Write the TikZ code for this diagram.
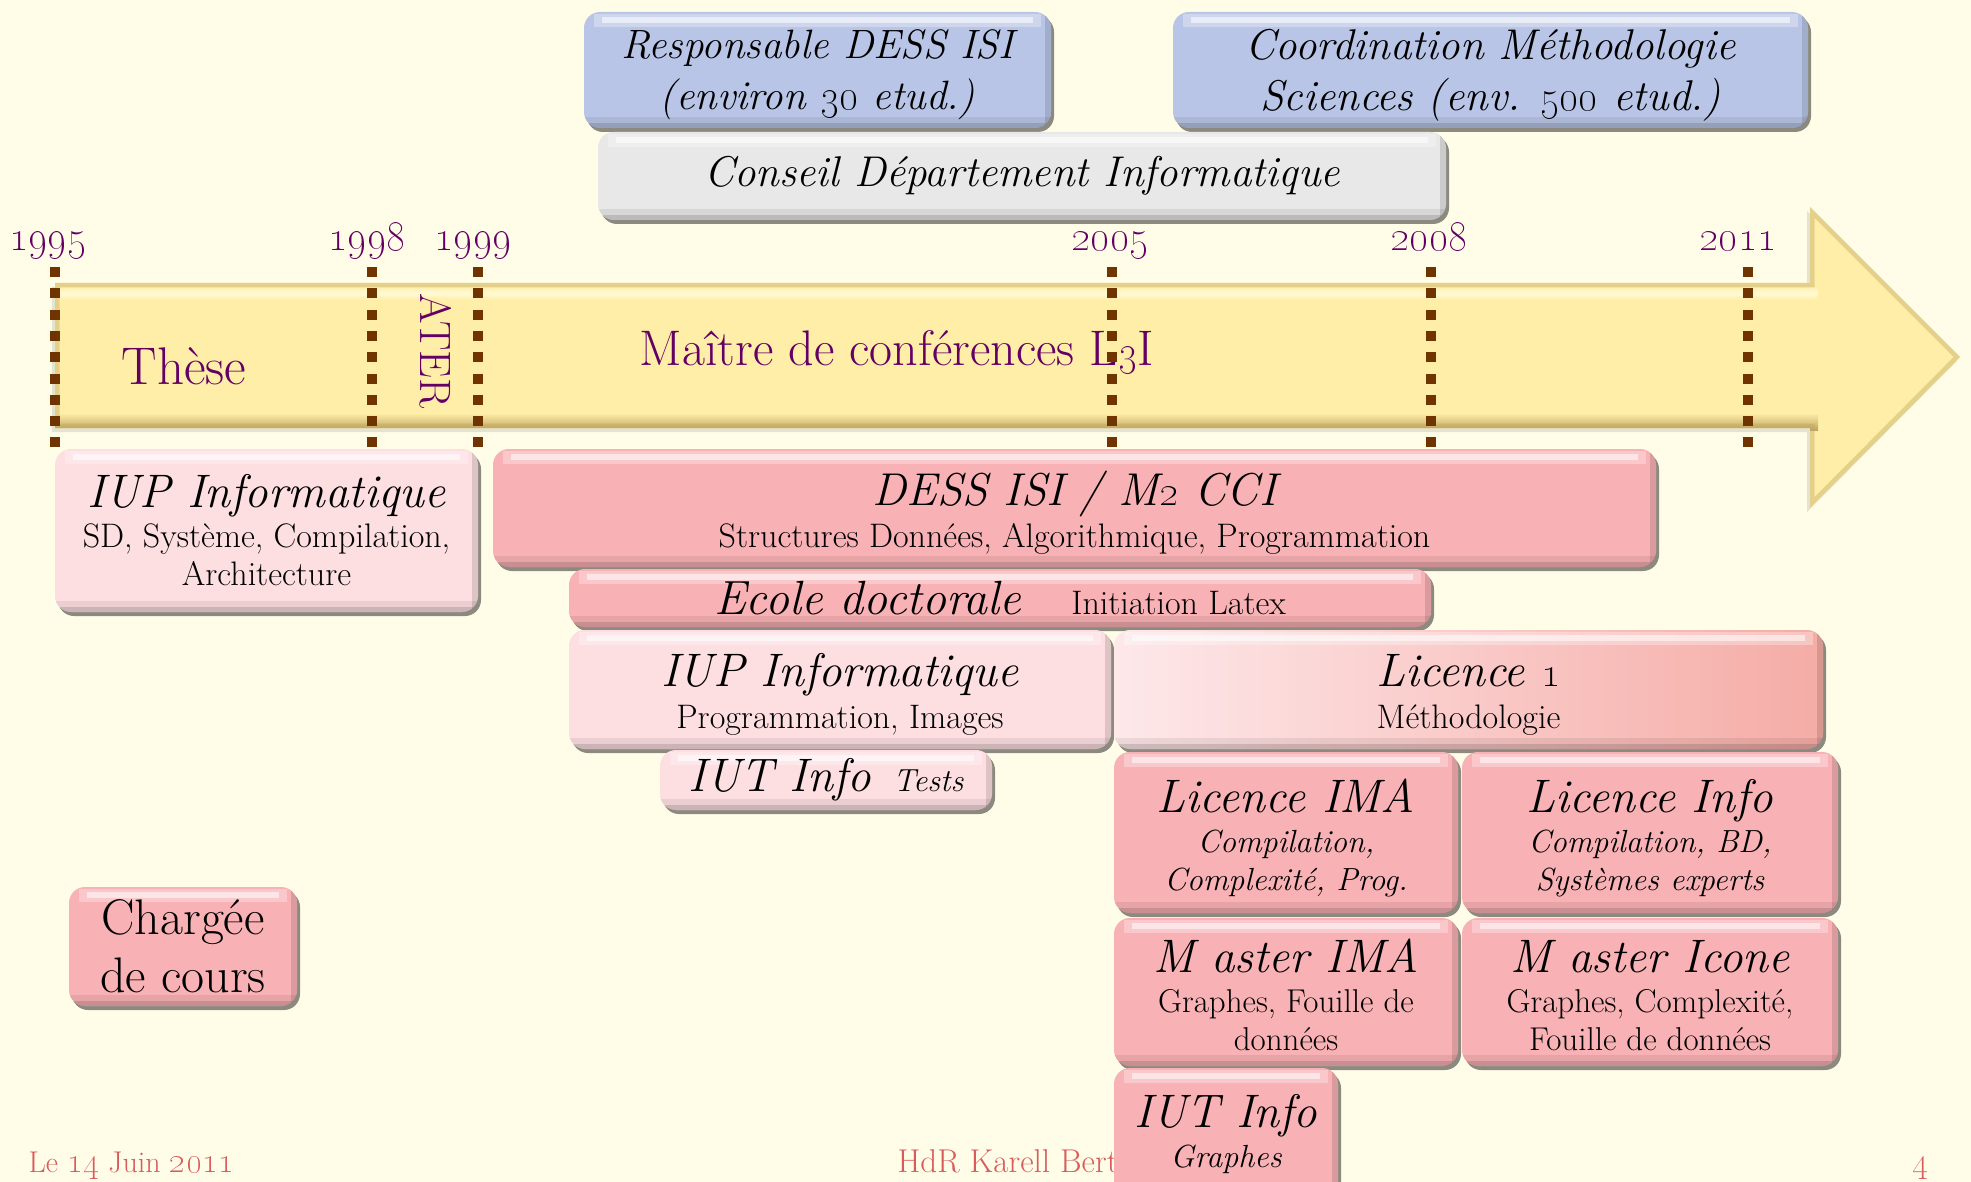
\documentclass[tikz,border=0pt]{standalone}
\usetikzlibrary{shadows}

\definecolor{bg}{RGB}{255,253,232}
\definecolor{pk}{RGB}{248,177,180}
\definecolor{pkr}{RGB}{245,172,166}
\definecolor{lpk}{RGB}{253,222,225}
\definecolor{bl}{RGB}{185,197,230}
\definecolor{gr}{RGB}{232,232,232}
\definecolor{arr}{RGB}{255,238,168}
\definecolor{arrlt}{RGB}{255,250,214}
\definecolor{arrdk}{RGB}{190,165,95}
\definecolor{dotc}{RGB}{112,52,0}
\definecolor{purp}{RGB}{100,0,100}
\definecolor{foot}{RGB}{217,92,92}

\newcommand\fsz[2]{\fontsize{#1}{#2}\selectfont}
% old-style figures, enlarged a little to sit well with the text
\newcommand\osn[1]{\scalebox{1.2}{\oldstylenums{#1}}}
% invisible strut that lowers a text block inside its box
\newcommand\upstrut[1]{\rule{0pt}{#1}}

\tikzset{
  bx/.style={rounded corners=16pt, align=center, inner sep=0pt, text=black,
    drop shadow={shadow xshift=3pt, shadow yshift=-4pt, opacity=0.45, fill=black},
    path picture={
      \begin{scope}[sharp corners]
      \fill[white,opacity=0.55]
        ([xshift=18pt,yshift=-5pt]path picture bounding box.north west) rectangle
        ([xshift=-18pt,yshift=-11pt]path picture bounding box.north east);
      \fill[white,opacity=0.3]
        ([xshift=10pt,yshift=-2pt]path picture bounding box.north west) rectangle
        ([xshift=-10pt,yshift=-15pt]path picture bounding box.north east);
      \fill[black,opacity=0.07]
        ([yshift=11pt]path picture bounding box.south west) rectangle
        (path picture bounding box.south east);
      \fill[black,opacity=0.13]
        ([yshift=5pt]path picture bounding box.south west) rectangle
        (path picture bounding box.south east);
      \fill[black,opacity=0.12]
        ([xshift=-6pt]path picture bounding box.north east) rectangle
        (path picture bounding box.south east);
      \end{scope}
    }},
  year/.style={text=purp, font=\fsz{38}{38}, anchor=base},
  dotline/.style={dotc, line width=10pt, dash pattern=on 10pt off 11.3pt},
  foottext/.style={text=foot, font=\fsz{30}{30}, anchor=base west},
}

\begin{document}
\begin{tikzpicture}[x=1pt,y=-1pt]
\useasboundingbox (0,0) rectangle (1971,1182);
\fill[bg] (0,0) rectangle (1971,1182);

% ---- time arrow ----
\fill[black,opacity=0.10] (52,287) -- (1807,287) -- (1807,211) -- (1957,361)
  -- (1807,512) -- (1807,432) -- (52,432) -- cycle;
\begin{scope}
  \clip (55,283) -- (1810,283) -- (1810,207) -- (1960,357) -- (1810,508)
    -- (1810,428) -- (55,428) -- cycle;
  \fill[arr] (0,200) rectangle (1971,520);
  \shade[top color=arr, bottom color=arr, middle color=arrlt] (55,286) rectangle (1818,300);
  \shade[top color=arr, bottom color=arrdk] (55,413) rectangle (1818,430);
  \draw[arrdk, line width=9pt, opacity=0.4] (55,283) -- (1810,283) -- (1810,207)
    -- (1960,357) -- (1810,508) -- (1810,428) -- (55,428) -- cycle;
\end{scope}

% ---- periods on the arrow ----
\node[text=purp, font=\fsz{53}{53}] (these) at (184,366) {Thèse};
\node[text=purp, font=\fsz{44}{44}, rotate=-90] (ater) at (436,351) {ATER};
\node[text=purp, font=\fsz{50}{50}] (mdc) at (897,352) {Maître de conférences L\osn{3}I};

% ---- year marks ----
\node[year] (y1995) at (48,251) {\osn{1995}};
\node[year] (y1998) at (367,251) {\osn{1998}};
\node[year] (y1999) at (473,251) {\osn{1999}};
\node[year] (y2005) at (1110,251) {\osn{2005}};
\node[year] (y2008) at (1429,251) {\osn{2008}};
\node[year] (y2011) at (1738,251) {\osn{2011}};
\foreach \x in {55,372,478,1112,1431,1748}
  \draw[dotline] (\x,267) -- (\x,447);

% ---- responsibilities ----
\node[bx, fill=bl, minimum width=467pt, minimum height=116pt, font=\fsz{41}{51}\itshape]
  (resp) at (817.5,70) {\upstrut{38pt}Responsable DESS ISI\\(environ \osn{30} etud.)};
\node[bx, fill=bl, minimum width=635pt, minimum height=116pt, font=\fsz{43}{51}\itshape]
  (coord) at (1490.5,70) {\upstrut{40pt}Coordination Méthodologie\\Sciences (env. \osn{500} etud.)};
\node[bx, fill=gr, minimum width=848pt, minimum height=88pt, font=\fsz{43}{51}\itshape]
  (conseil) at (1022,176) {Conseil Département Informatique};

% ---- teaching ----
\node[bx, fill=lpk, minimum width=423pt, minimum height=163pt, font=\fsz{34}{38}]
  (iupa) at (266.5,530.5) {{\fsz{47}{50}\itshape IUP Informatique}\\[2pt]SD, Système, Compilation,\\Architecture};
\node[bx, fill=pk, minimum width=1163pt, minimum height=118pt, font=\fsz{34}{38}]
  (dess) at (1074.5,508) {{\fsz{46}{50}\itshape\upstrut{44pt}DESS ISI / M\osn{2} CCI}\\[4pt]Structures Données, Algorithmique, Programmation};
\node[bx, fill=pk, minimum width=862pt, minimum height=58pt, font=\fsz{34}{38}]
  (ecole) at (1000,598) {{\fsz{48}{50}\itshape Ecole doctorale}\hspace{50pt}Initiation Latex};
\node[bx, fill=lpk, minimum width=542pt, minimum height=119pt, font=\fsz{34}{38}]
  (iupb) at (840,689.5) {{\fsz{47}{50}\itshape\upstrut{42pt}IUP Informatique}\\[4pt]Programmation, Images};
\node[bx, left color=lpk!70!white, right color=pkr, minimum width=709pt, minimum height=119pt, font=\fsz{34}{38}]
  (lic1) at (1468.5,689.5) {{\fsz{47}{50}\itshape\upstrut{42pt}Licence \osn{1}}\\[4pt]Méthodologie};
\node[bx, fill=lpk, minimum width=332pt, minimum height=60pt, font=\fsz{47}{50}\itshape]
  (iuta) at (826,780) {IUT Info\hspace{22pt}{\fsz{32}{34}Tests}};
\node[bx, fill=pk, minimum width=344pt, minimum height=161pt, font=\fsz{32}{38}\itshape]
  (licima) at (1286,832.5) {{\fsz{47}{50}\upstrut{44pt}Licence IMA}\\[2pt]Compilation,\\Complexité, Prog.};
\node[bx, fill=pk, minimum width=376pt, minimum height=161pt, font=\fsz{32}{38}\itshape]
  (licinfo) at (1650,832.5) {{\fsz{47}{50}\upstrut{44pt}Licence Info}\\[2pt]Compilation, BD,\\Systèmes experts};
\node[bx, fill=pk, minimum width=344pt, minimum height=148pt, font=\fsz{33}{38}]
  (mima) at (1286,992) {{\fsz{47}{50}\itshape\upstrut{40pt}M aster IMA}\\[2pt]Graphes, Fouille de\\données};
\node[bx, fill=pk, minimum width=376pt, minimum height=148pt, font=\fsz{33}{38}]
  (micone) at (1650,992) {{\fsz{47}{50}\itshape\upstrut{40pt}M aster Icone}\\[2pt]Graphes, Complexité,\\Fouille de données};
\node[bx, fill=pk, minimum width=228pt, minimum height=119pt, font=\fsz{50}{58}]
  (charg) at (183,946.5) {Chargée\\de cours};

% ---- footer ----
\node[foottext] (date) at (25,1172) {Le \osn{14} Juin \osn{2011}};
\node[foottext, font=\fsz{33}{33}, anchor=base east] (auth) at (1122,1172) {HdR Karell Bert};
\node[foottext, anchor=base] (page) at (1921,1172) {\osn{4}};

\node[bx, fill=pk, minimum width=224pt, minimum height=132pt, font=\fsz{32}{38}\itshape]
  (iutb) at (1226,1134) {{\fsz{47}{50}IUT Info}\\[2pt]Graphes};
\end{tikzpicture}
\end{document}
